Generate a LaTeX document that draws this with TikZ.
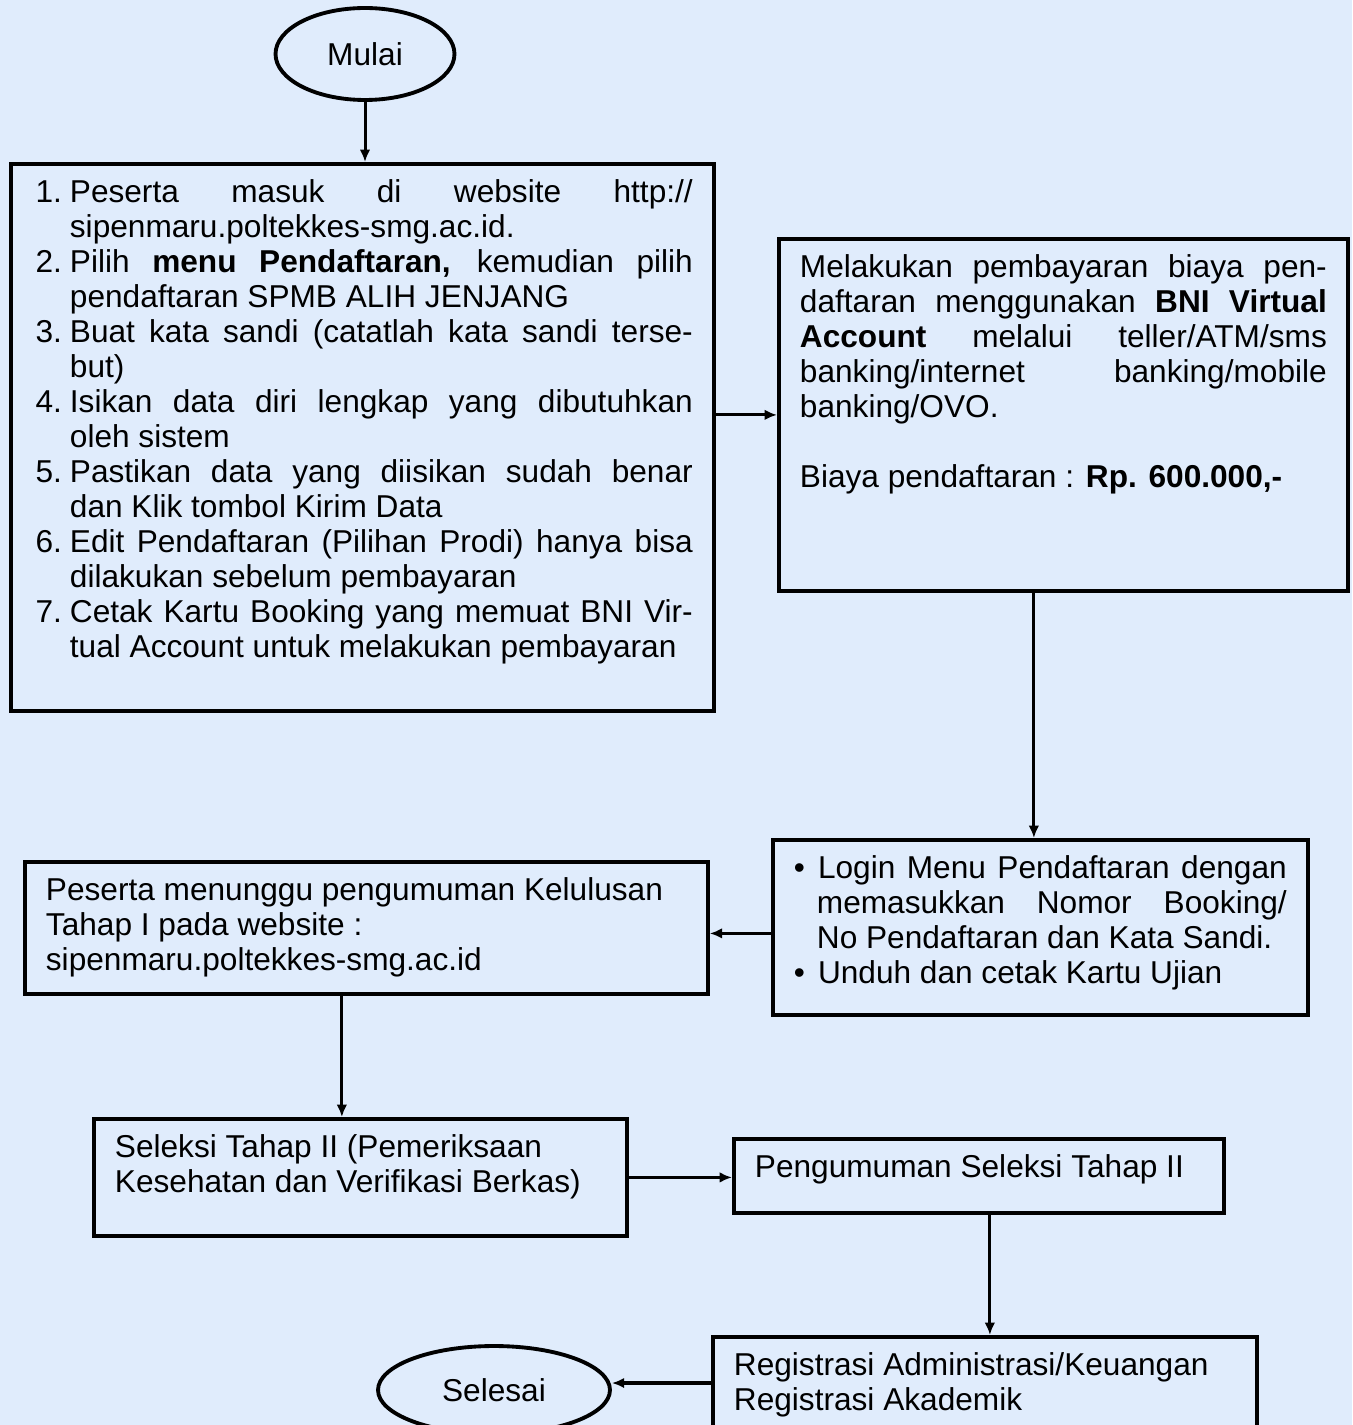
\documentclass[tikz,border=0pt]{standalone}
\usepackage{fontspec}
\setmainfont{Liberation Sans}
\usepackage{tikz}
\usetikzlibrary{shapes,arrows,arrows.meta}
\definecolor{latar}{RGB}{224,236,252}
\newcounter{nomor}

\begin{document}
\begin{tikzpicture}[->, >={Latex[length=7pt,width=6pt]}, x=0.02cm, y=-0.02cm, line width=1.7pt, font=\fontsize{18}{19.9}\selectfont]
      \tikzstyle{kotak}=[rectangle, draw, line width=2.2pt, anchor=north west, inner xsep=0.42cm, inner ysep=0.32cm]
      \tikzstyle{bulat}=[ellipse, draw, line width=2.2pt, inner sep=0pt]
      \useasboundingbox[-, fill=latar] (0,0) rectangle (1352,1425);
      \node[bulat, minimum width=3.58cm, minimum height=1.84cm] (mulai) at (365,54) {Mulai};
      \node[kotak] (daftar) at (9,162) {\parbox[c][10.3cm][t]{13.22cm}{%
        \begin{list}{\arabic{nomor}.}{\usecounter{nomor}\setlength{\leftmargin}{0.76cm}\setlength{\labelwidth}{0.6cm}%
          \setlength{\labelsep}{0.16cm}\setlength{\topsep}{0pt}\setlength{\partopsep}{0pt}\setlength{\itemsep}{0pt}\setlength{\parsep}{0pt}}
        \item Peserta masuk di website http://\linebreak sipenmaru.poltekkes-smg.ac.id.
        \item Pilih \textbf{menu Pendaftaran,} kemudian pilih\linebreak pendaftaran SPMB ALIH JENJANG
        \item Buat kata sandi (catatlah kata sandi terse-\linebreak but)
        \item Isikan data diri lengkap yang dibutuhkan\linebreak oleh sistem
        \item Pastikan data yang diisikan sudah benar\linebreak dan Klik tombol Kirim Data
        \item Edit Pendaftaran (Pilihan Prodi) hanya bisa\linebreak dilakukan sebelum pembayaran
        \item Cetak Kartu Booking yang memuat BNI Vir-\linebreak tual Account untuk melakukan pembayaran
        \end{list}}};
      \node[kotak] (bayar) at (777,237) {\parbox[c][6.4cm][t]{10.54cm}{%
        Melakukan pembayaran biaya pen-\linebreak daftaran menggunakan \textbf{BNI Virtual}\linebreak
        \textbf{Account} melalui teller/ATM/sms\linebreak banking/internet banking/mobile\linebreak banking/OVO.\par
        \mbox{}\par
        Biaya pendaftaran : \textbf{Rp. 600.000,-}}};
      \node[kotak] (login) at (771,838) {\parbox[c][2.86cm][t]{9.86cm}{%
        \begin{list}{\textbullet}{\setlength{\leftmargin}{0.46cm}\setlength{\labelwidth}{0.2cm}%
          \setlength{\labelsep}{0.26cm}\setlength{\topsep}{0pt}\setlength{\partopsep}{0pt}\setlength{\itemsep}{0pt}\setlength{\parsep}{0pt}}
        \item Login Menu Pendaftaran dengan\linebreak memasukkan Nomor Booking/\linebreak No Pendaftaran dan Kata Sandi.
        \item Unduh dan cetak Kartu Ujian
        \end{list}}};
      \node[kotak] (tunggu) at (23,860) {\parbox[c][2.0cm][t]{12.82cm}{%
        Peserta menunggu pengumuman Kelulusan\\ Tahap I pada website :\\ sipenmaru.poltekkes-smg.ac.id}};
      \node[kotak] (seleksi) at (92,1117) {\parbox[c][1.7cm][t]{9.82cm}{%
        Seleksi Tahap II (Pemeriksaan\\ Kesehatan dan Verifikasi Berkas)}};
      \node[kotak] (umum) at (732,1137) {\parbox[c][0.84cm][t]{8.96cm}{Pengumuman Seleksi Tahap II}};
      \node[kotak] (regis) at (711,1335) {\parbox[c][1.96cm][t]{10.04cm}{%
        Registrasi Administrasi/Keuangan\\ Registrasi Akademik}};
      \node[bulat, minimum width=4.64cm, minimum height=1.76cm] (selesai) at (494,1390) {Selesai};
      \draw (mulai.south) -- (mulai.south |- daftar.north);
      \draw (daftar.east |- bayar.west) -- (bayar.west);
      \draw ([xshift=-0.59cm]bayar.south) -- ([xshift=-0.59cm]bayar.south |- login.north);
      \draw ([yshift=-0.12cm]login.west) -- ([yshift=-0.12cm]login.west -| tunggu.east);
      \draw ([xshift=-0.49cm]tunggu.south) -- ([xshift=-0.49cm]tunggu.south |- seleksi.north);
      \draw[line width=2.2pt] (seleksi.east) -- (seleksi.east -| umum.west);
      \draw ([xshift=0.22cm]umum.south) -- ([xshift=0.22cm]umum.south |- regis.north);
      \draw[line width=2.2pt] ([yshift=0.14cm]selesai.east -| regis.west) -- ([yshift=0.14cm]selesai.east);
    \end{tikzpicture}
\end{document}
